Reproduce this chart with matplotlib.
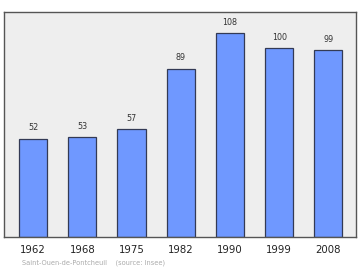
import matplotlib
matplotlib.use("Agg")
import matplotlib.pyplot as plt

# population data
years = ["1962", "1968", "1975", "1982", "1990", "1999", "2008"]
population = [52, 53, 57, 89, 108, 100, 99]

fig = plt.figure(figsize=(3.6, 2.7), dpi=100)
fig.patch.set_facecolor("white")
ax = fig.add_axes([4 / 360, 1 - 237 / 270, 352 / 360, 225 / 270])
ax.set_facecolor("#eeeeee")

x = range(len(years))
bars = ax.bar(x, population, width=0.57, color="#6f98ff",
              edgecolor="#333a55", linewidth=0.9, zorder=2)

for xi, val in zip(x, population):
    ax.annotate(str(val), xy=(xi, val), xytext=(0, 4.5),
                textcoords="offset points", ha="center", va="bottom",
                fontsize=5.8, color="#333333")

ax.set_xlim(-0.59, 6.56)
ax.set_ylim(0, 119)
ax.set_xticks(list(x))
ax.set_xticklabels(years, fontsize=7.3, color="#222222")
ax.tick_params(axis="x", length=0, pad=6)
ax.set_yticks([])
for sp in ax.spines.values():
    sp.set_color("#555555")
    sp.set_linewidth(1.0)

fig.text(22 / 360, 1 - 263 / 270, "Saint-Ouen-de-Pontcheuil    (source: Insee)",
         fontsize=4.8, color="#aaaaaa", va="center", ha="left")

fig.savefig("out.png", dpi=100, facecolor="white")
